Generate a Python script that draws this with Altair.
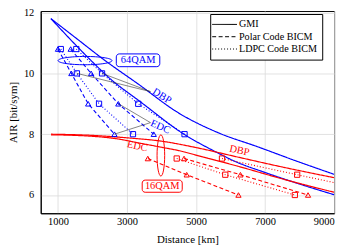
import altair as alt
import pandas as pd

FONT = "Liberation Serif"
BLUE = "#0000ff"
RED = "#ff0000"

# ---- GMI curves (solid) ----
gmi64_dbp_km = [795, 1500, 2390, 3324, 4492, 5637, 6800, 7900, 9000]
gmi64_dbp_air = [11.80, 11.18, 10.40, 9.65, 8.70, 8.05, 7.58, 7.12, 6.68]
gmi64_edc_km = [795, 1960, 2486, 3394, 4650, 5637, 6100, 7000, 8000, 9000]
gmi64_edc_air = [11.80, 10.42, 9.85, 9.06, 8.00, 7.38, 7.12, 6.74, 6.36, 6.01]
gmi16_dbp_km = [800, 2000, 3000, 4000, 5000, 6200, 7500, 9000]
gmi16_dbp_air = [8.00, 7.96, 7.88, 7.77, 7.56, 7.25, 6.92, 6.57]
gmi16_edc_km = [800, 2000, 2700, 3350, 4000, 4500, 5200, 6200, 7500, 9000]
gmi16_edc_air = [7.98, 7.93, 7.85, 7.71, 7.57, 7.46, 7.25, 6.95, 6.53, 6.09]

# ---- coded BICM results ----
air64 = [10.8, 10.0, 9.0, 8.0]
air16 = [7.2, 6.667, 6.0]
polar64_edc_km = [1000, 1388, 1875, 2637]
ldpc64_edc_km = [1082, 1549, 2190, 3173]
polar64_dbp_km = [1368, 1961, 2748, 3775]
ldpc64_dbp_km = [1531, 2277, 3325, 4667]
polar16_edc_km = [3603, 4730, 6229]
ldpc16_edc_km = [4440, 5847, 7863]
polar16_dbp_km = [4653, 6286, 8245]
ldpc16_dbp_km = [5752, 7930, 10690]

types = ["GMI", "Polar Code BICM", "LDPC Code BICM"]
x_ticks = [1000, 2000, 3000, 4000, 5000, 6000, 7000, 8000, 9000]
y_ticks = [6, 8, 10, 12]

# ---- annotations ----
ptr_x = [1549, 2277, 2753, 2637]
ptr_y = [10.0, 10.0, 9.0, 8.0]
ptr_x2 = [3680, 3680, 3680, 3680]
ptr_y2 = [9.40, 9.40, 8.38, 8.38]

lab_text = ["DBP", "EDC", "DBP", "EDC"]
lab_x = [4010, 3967, 6259, 3297]
lab_y = [9.25, 8.24, 7.46, 7.60]
lab_angle = [32, 24, 12, 12]
lab_mod = ["64QAM", "64QAM", "16QAM", "16QAM"]

box_text = ["64QAM", "16QAM"]
box_x = [2690, 3440]
box_x2 = [3950, 4600]
box_y = [10.22, 6.09]
box_y2 = [10.64, 6.49]
box_tx = [3320, 4020]
box_ty = [10.43, 6.29]

ell_x = [1784, 3981]
ell_y = [10.42, 7.30]

# ---- build tables ----
gmi_rows = []
for kms, airs, mod, s in [
    (gmi64_dbp_km, gmi64_dbp_air, "64QAM", "g64d"),
    (gmi64_edc_km, gmi64_edc_air, "64QAM", "g64e"),
    (gmi16_dbp_km, gmi16_dbp_air, "16QAM", "g16d"),
    (gmi16_edc_km, gmi16_edc_air, "16QAM", "g16e"),
]:
    for k, a in zip(kms, airs):
        gmi_rows.append({"km": k, "air": a, "mod": mod, "type": "GMI", "series": s})
gmi_df = pd.DataFrame(gmi_rows)

code_rows = []
for kms, airs, mod, t, s in [
    (polar64_edc_km, air64, "64QAM", "Polar Code BICM", "p64e"),
    (ldpc64_edc_km, air64, "64QAM", "LDPC Code BICM", "l64e"),
    (polar64_dbp_km, air64, "64QAM", "Polar Code BICM", "p64d"),
    (ldpc64_dbp_km, air64, "64QAM", "LDPC Code BICM", "l64d"),
    (polar16_edc_km, air16, "16QAM", "Polar Code BICM", "p16e"),
    (ldpc16_edc_km, air16, "16QAM", "LDPC Code BICM", "l16e"),
    (polar16_dbp_km, air16, "16QAM", "Polar Code BICM", "p16d"),
    (ldpc16_dbp_km, air16, "16QAM", "LDPC Code BICM", "l16d"),
]:
    for k, a in zip(kms, airs):
        code_rows.append({"km": k, "air": a, "mod": mod, "type": t, "series": s})
code_df = pd.DataFrame(code_rows)

ptr_df = pd.DataFrame({"x": ptr_x, "y": ptr_y, "x2": ptr_x2, "y2": ptr_y2})
lab_df = pd.DataFrame({"t": lab_text, "x": lab_x, "y": lab_y, "a": lab_angle, "mod": lab_mod})
box_df = pd.DataFrame({"t": box_text, "x": box_x, "x2": box_x2, "y": box_y, "y2": box_y2,
                       "tx": box_tx, "ty": box_ty, "mod": ["64QAM", "16QAM"]})
ell_df = pd.DataFrame({"x": ell_x, "y": ell_y, "mod": ["64QAM", "16QAM"]})

xs = alt.Scale(domain=[500, 9000], nice=False)
ys = alt.Scale(domain=[5.4, 12.05], nice=False)
X = alt.X("km:Q", scale=xs, axis=alt.Axis(values=x_ticks, format="d", title="Distance [km]"))
Y = alt.Y("air:Q", scale=ys, axis=alt.Axis(values=y_ticks, format="d", title="AIR [bit/sym]"))
col_scale = alt.Scale(domain=["64QAM", "16QAM"], range=[BLUE, RED])
C = alt.Color("mod:N", scale=col_scale, legend=None)
dash_scale = alt.Scale(domain=types, range=[[1, 0], [4, 2.5], [1, 2]])

legend = alt.Legend(
    title=None, orient="none", legendX=171, legendY=3,
    symbolType="M-2.5,0H2.5", symbolSize=100, symbolStrokeColor="black",
    symbolStrokeWidth=1, symbolOffset=4, labelOffset=9,
    labelFont=FONT, labelFontSize=10.2, labelColor="black",
    strokeColor="black", fillColor="white", padding=5, rowPadding=1.4,
)

gmi_layer = alt.Chart(gmi_df).mark_line(interpolate="monotone", strokeWidth=1.2, clip=True).encode(
    x=X, y=Y, color=C, detail="series:N",
    strokeDash=alt.StrokeDash("type:N", scale=dash_scale, legend=legend),
)
code_layer = alt.Chart(code_df).mark_line(strokeWidth=1.1, clip=True).encode(
    x=X, y=Y, color=C, detail="series:N",
    strokeDash=alt.StrokeDash("type:N", scale=dash_scale, legend=legend),
)
pts_layer = alt.Chart(code_df).mark_point(filled=False, size=28, strokeWidth=1, opacity=1, clip=True).encode(
    x=X, y=Y, color=C,
    shape=alt.Shape("type:N", scale=alt.Scale(domain=["Polar Code BICM", "LDPC Code BICM"],
                                              range=["triangle-up", "square"]), legend=None),
)

ell64 = alt.Chart(ell_df[ell_df["mod"] == "64QAM"]).mark_point(
    shape="M-1,0A1,0.154,0,1,0,1,0A1,0.154,0,1,0,-1,0Z", size=2959, filled=False,
    strokeWidth=1, opacity=1, color=BLUE,
).encode(x=alt.X("x:Q", scale=xs), y=alt.Y("y:Q", scale=ys))
ell16 = alt.Chart(ell_df[ell_df["mod"] == "16QAM"]).mark_point(
    shape="M0,-1A0.185,1,0,1,0,0,1A0.185,1,0,1,0,0,-1Z", size=1731, filled=False,
    strokeWidth=1, opacity=1, color=RED,
).encode(x=alt.X("x:Q", scale=xs), y=alt.Y("y:Q", scale=ys))

ptr_layer = alt.Chart(ptr_df).mark_rule(color="#333333", strokeWidth=0.6).encode(
    x=alt.X("x:Q", scale=xs), y=alt.Y("y:Q", scale=ys), x2="x2:Q", y2="y2:Q")

lab_layer = alt.Chart(lab_df).mark_text(font=FONT, fontSize=10.5, align="center", baseline="middle").encode(
    x=alt.X("x:Q", scale=xs), y=alt.Y("y:Q", scale=ys), text="t:N", angle=alt.Angle("a:Q", scale=None),
    color=alt.Color("mod:N", scale=col_scale, legend=None))

box_layer = alt.Chart(box_df).mark_rect(fill="white", strokeWidth=1, cornerRadius=3).encode(
    x=alt.X("x:Q", scale=xs), x2="x2:Q", y=alt.Y("y:Q", scale=ys), y2="y2:Q",
    stroke=alt.Stroke("mod:N", scale=col_scale, legend=None))
box_text_layer = alt.Chart(box_df).mark_text(font=FONT, fontSize=10.5, align="center", baseline="middle").encode(
    x=alt.X("tx:Q", scale=xs), y=alt.Y("ty:Q", scale=ys), text="t:N",
    color=alt.Color("mod:N", scale=col_scale, legend=None))

chart = alt.layer(
    gmi_layer, code_layer, pts_layer, ell64, ell16, ptr_layer, lab_layer, box_layer, box_text_layer
).properties(
    width=296, height=204,
    padding={"left": 33, "top": 2, "right": 12, "bottom": 34},
    autosize=alt.AutoSizeParams(type="none"),
).configure_view(
    stroke="black", strokeWidth=1
).configure_axis(
    labelFont=FONT, labelFontSize=10.5, labelColor="black",
    titleFont=FONT, titleFontSize=11, titleFontWeight="normal", titleColor="black",
    domainColor="black", domainWidth=1, gridColor="#dadada", gridWidth=0.8,
    ticks=False, tickSize=0,
).configure_axisX(
    labelPadding=3, titlePadding=7
).configure_axisY(
    labelPadding=7, titlePadding=5
)

chart.save("out.html", embed_options={"renderer": "svg", "actions": False})
